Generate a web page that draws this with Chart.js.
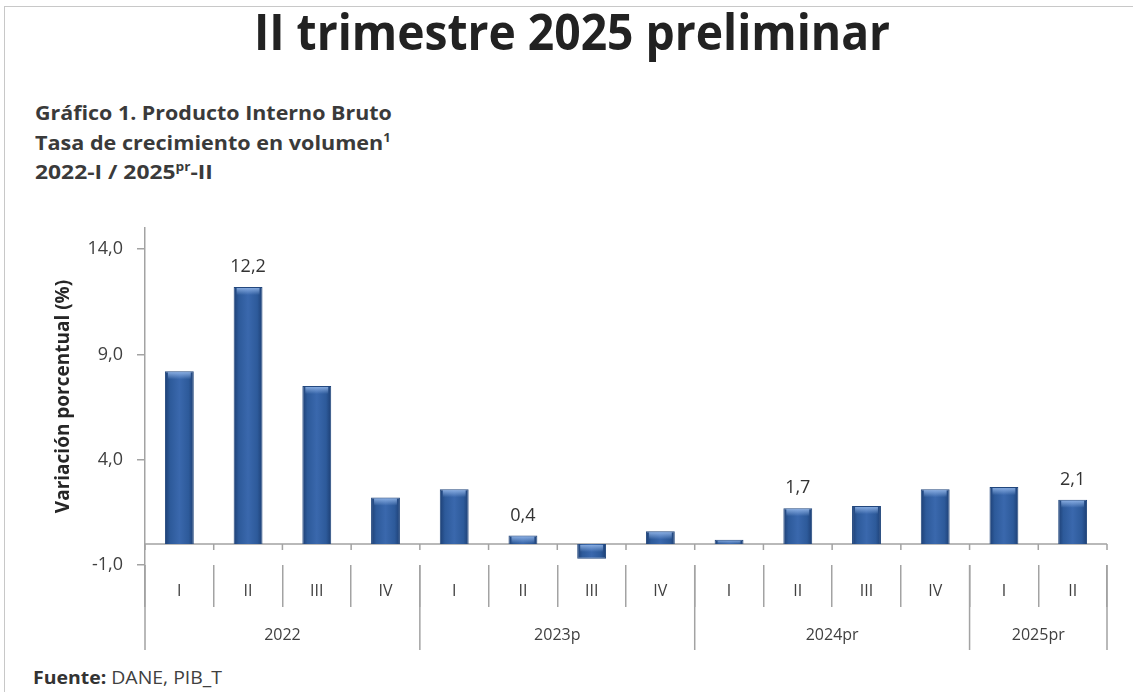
<!DOCTYPE html>
<html lang="es">
<head>
<meta charset="utf-8">
<title>PIB II trimestre 2025</title>
<script src="https://cdn.jsdelivr.net/npm/chart.js@4.4.1/dist/chart.umd.min.js"></script>
<style>
  html, body { margin: 0; padding: 0; background: #fff; }
  body { width: 1133px; height: 692px; position: relative; overflow: hidden; font-family: "Open Sans", sans-serif; }
  .frame { position: absolute; left: 4px; top: 6px; right: -2px; bottom: -2px; border-left: 1px solid #c8c8c8; border-top: 1px solid #c8c8c8; }
  #title { position: absolute; top: 6px; left: 6px; width: 1133px; text-align: center; line-height: 50px; }
  #title span { display: inline-block; font-size: 50px; font-weight: 700; color: #222; }
  .sub { position: absolute; left: 35px; font-size: 20px; font-weight: 700; color: #3a3a3a; line-height: 24px; white-space: nowrap; transform-origin: left center; }
  .sub sup { font-size: 12px; line-height: 0; vertical-align: 8px; }
  #source { position: absolute; left: 33px; top: 665px; font-size: 18px; color: #404040; line-height: 24px; white-space: nowrap; transform-origin: left center; }
  #source b { color: #333; }
  canvas { position: absolute; left: 0; top: 0; }
</style>
</head>
<body>
<div class="frame"></div>
<div id="title"><span>II trimestre 2025 preliminar</span></div>
<div class="sub" id="s1" style="top:101px">Gráfico 1. Producto Interno Bruto</div>
<div class="sub" id="s2" style="top:131px">Tasa de crecimiento en volumen<sup>1</sup></div>
<div class="sub" id="s3" style="top:160px">2022-I / 2025<sup>pr</sup>-II</div>
<div id="source"><b>Fuente:</b> DANE, PIB_T</div>
<canvas id="pib-chart" width="1133" height="692"></canvas>
<script>
// Quarters, year groups and growth rates (%)
const quarters = ['I', 'II', 'III', 'IV', 'I', 'II', 'III', 'IV', 'I', 'II', 'III', 'IV', 'I', 'II'];
const years = ['2022', '2023p', '2024pr', '2025pr'];
const yearSpans = [4, 4, 4, 2];
const growth = [8.2, 12.2, 7.5, 2.2, 2.6, 0.4, -0.7, 0.6, 0.2, 1.7, 1.8, 2.6, 2.7, 2.1];
const labelled = [1, 5, 9, 13];
const yTicks = [-1, 4, 9, 14];

const axisGray = '#a3a3a3';
const textGray = '#404040';
const barPct = 0.42;

// squeeze the Calibri-like headings to the widths of the original
function fitWidth(id, width) {
    const el = document.getElementById(id);
    const span = el.id === 'title' ? el.firstElementChild : el;
    span.style.transform = `scaleX(${width / span.offsetWidth})`;
}
fitWidth('title', 636);
fitWidth('s1', 357);
fitWidth('s2', 356);
fitWidth('s3', 178);
fitWidth('source', 189);

const fmt = v => v.toFixed(1).replace('.', ',');

function barFill(context) {
    const chart = context.chart;
    const x = chart.scales.x;
    if (!chart.chartArea || !x || context.dataIndex === undefined) return '#3562a3';
    const cx = x.getPixelForValue(context.dataIndex);
    const half = x.width / quarters.length * barPct / 2;
    const g = chart.ctx.createLinearGradient(cx - half, 0, cx + half, 0);
    g.addColorStop(0, '#1d3f74');
    g.addColorStop(0.18, '#2d5a9a');
    g.addColorStop(0.5, '#3a68ad');
    g.addColorStop(0.82, '#2d5a9a');
    g.addColorStop(1, '#1d3f74');
    return g;
}

const decorations = {
    id: 'decorations',
    beforeDatasetsDraw(chart) {
        const { ctx, chartArea, scales: { x, y } } = chart;
        const y0 = y.getPixelForValue(0);
        ctx.save();
        ctx.strokeStyle = axisGray;
        ctx.lineWidth = 1.5;
        ctx.beginPath();
        ctx.moveTo(chartArea.left, y0);
        ctx.lineTo(chartArea.right, y0);
        for (let i = 0; i <= quarters.length; i++) {
            const px = x.getPixelForValue(i - 0.5);
            ctx.moveTo(px, y0);
            ctx.lineTo(px, y0 + 6);
        }
        ctx.stroke();
        ctx.restore();
    },
    afterDatasetsDraw(chart) {
        const { ctx } = chart;
        const bars = chart.getDatasetMeta(0).data;
        ctx.save();
        // bevel highlight on top of each bar
        bars.forEach(bar => {
            const top = Math.min(bar.y, bar.base);
            const h = Math.min(8, Math.abs(bar.base - bar.y));
            const g = ctx.createLinearGradient(0, top, 0, top + h);
            g.addColorStop(0, 'rgba(150,185,235,0.95)');
            g.addColorStop(1, 'rgba(150,185,235,0)');
            ctx.fillStyle = g;
            ctx.fillRect(bar.x - bar.width / 2 + 3, top + 1, bar.width - 6, h);
        });
        // value labels
        ctx.fillStyle = '#333';
        ctx.font = '18px "Open Sans", sans-serif';
        ctx.textAlign = 'center';
        ctx.textBaseline = 'middle';
        labelled.forEach(i => {
            const bar = bars[i];
            ctx.fillText(fmt(growth[i]), bar.x, Math.min(bar.y, bar.base) - 20);
        });
        ctx.restore();
    },
    afterDraw(chart) {
        const { ctx, chartArea, scales: { x } } = chart;
        ctx.save();
        ctx.strokeStyle = axisGray;
        ctx.lineWidth = 1.5;
        ctx.fillStyle = textGray;
        ctx.font = '16px "Open Sans", sans-serif';
        ctx.textAlign = 'center';
        ctx.textBaseline = 'middle';
        let start = 0;
        ctx.beginPath();
        const left = x.getPixelForValue(-0.5);
        ctx.moveTo(left, chartArea.bottom);
        ctx.lineTo(left, chartArea.bottom + 85);
        years.forEach((yr, k) => {
            const end = start + yearSpans[k];
            const x1 = x.getPixelForValue(start - 0.5);
            const x2 = x.getPixelForValue(end - 0.5);
            ctx.moveTo(x2, chartArea.bottom);
            ctx.lineTo(x2, chartArea.bottom + 85);
            ctx.fillText(yr, (x1 + x2) / 2, chartArea.bottom + 70);
            start = end;
        });
        ctx.stroke();
        ctx.restore();
    }
};

new Chart(document.getElementById('pib-chart'), {
    type: 'bar',
    data: {
        labels: quarters,
        datasets: [{
            data: growth,
            backgroundColor: barFill,
            borderColor: '#21467c',
            borderWidth: 1,
            barPercentage: barPct,
            categoryPercentage: 1,
        }]
    },
    options: {
        responsive: false,
        animation: false,
        layout: {
            padding: { top: 228, right: 26, left: 44, bottom: 0 }
        },
        plugins: {
            legend: { display: false },
            tooltip: { enabled: false },
        },
        scales: {
            x: {
                offset: true,
                afterFit: s => { s.height = 127; },
                border: { display: false },
                grid: {
                    offset: true,
                    drawOnChartArea: false,
                    tickLength: 42,
                    color: axisGray,
                    lineWidth: 1.5,
                },
                ticks: {
                    padding: -25,
                    color: textGray,
                    font: { family: '"Open Sans", sans-serif', size: 16 },
                    autoSkip: false,
                    maxRotation: 0,
                }
            },
            y: {
                min: -1,
                max: 15,
                afterBuildTicks: s => { s.ticks = yTicks.map(v => ({ value: v })); },
                afterFit: s => { s.width = 101; },
                border: { color: axisGray, width: 1.5 },
                grid: {
                    drawOnChartArea: false,
                    tickLength: 8,
                    color: axisGray,
                    lineWidth: 1.5,
                },
                ticks: {
                    padding: 14,
                    color: textGray,
                    font: { family: '"Open Sans", sans-serif', size: 18 },
                    callback: v => fmt(v),
                },
                title: {
                    display: true,
                    text: 'Variación porcentual (%)',
                    color: '#262626',
                    font: { family: '"Open Sans", sans-serif', size: 19, weight: 'bold' },
                    padding: { top: 8, bottom: 0 },
                }
            }
        }
    },
    plugins: [decorations]
});
</script>
</body>
</html>
